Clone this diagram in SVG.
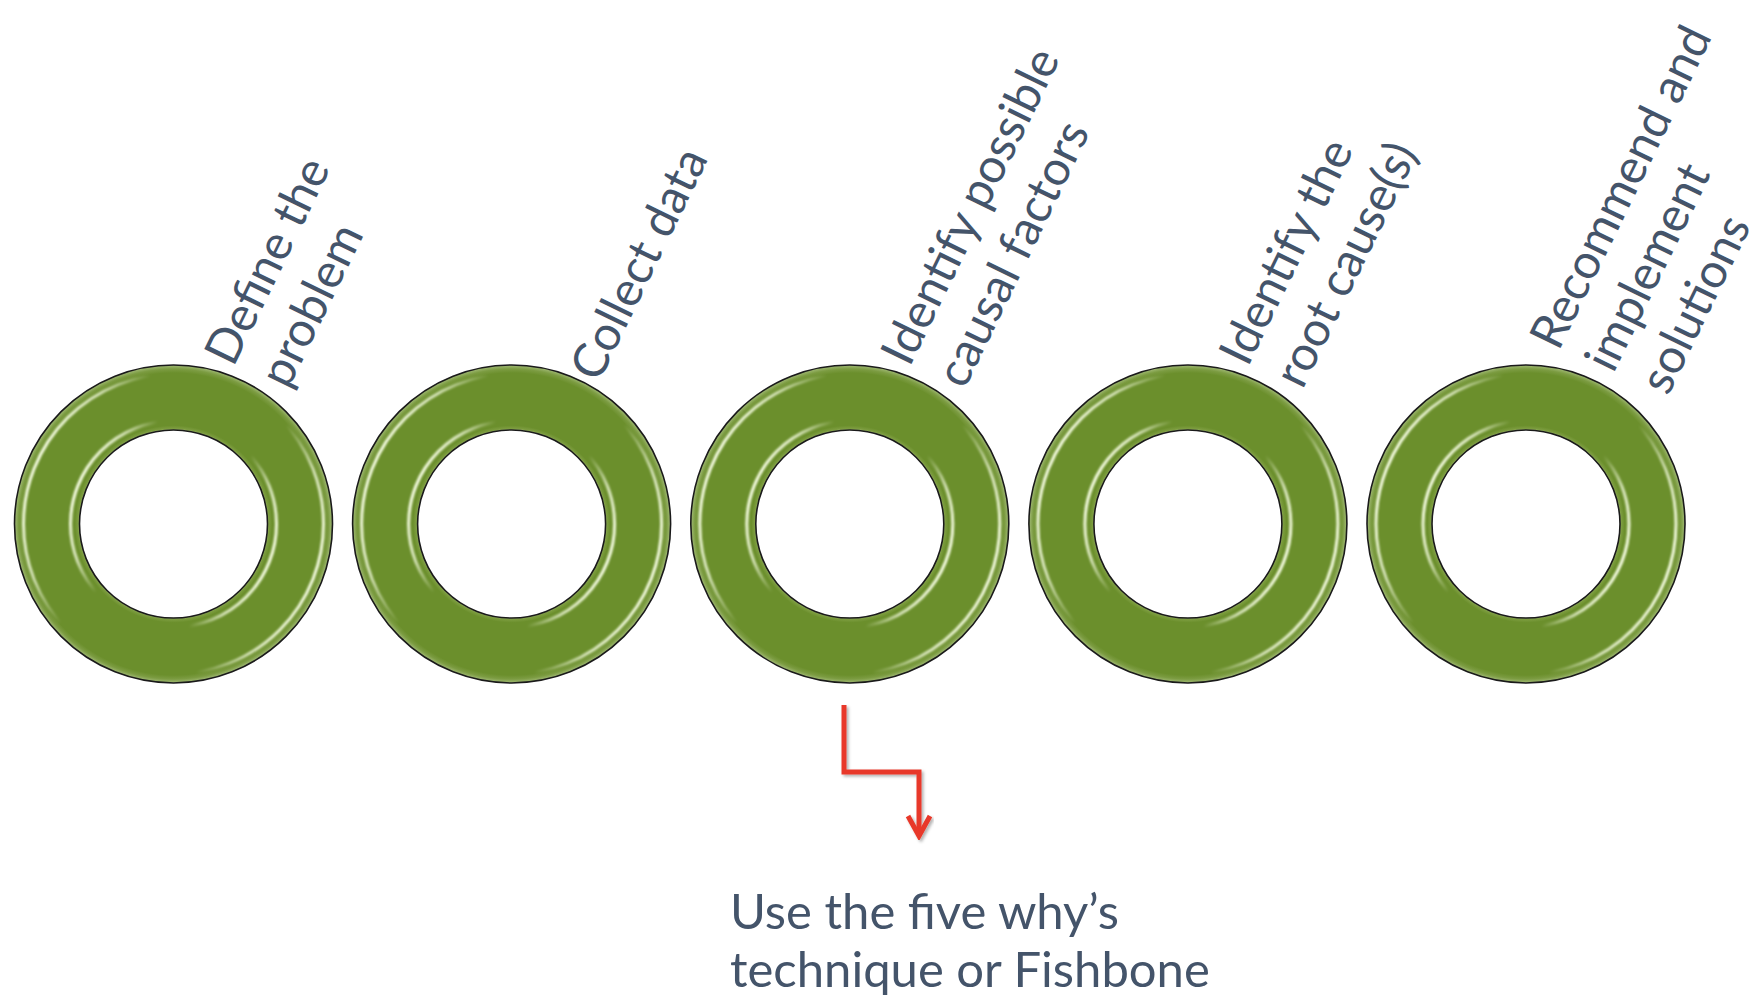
<svg xmlns="http://www.w3.org/2000/svg" width="1756" height="1001" viewBox="0 0 1756 1001">
<style>
.lbl { font-family: Lato, "Open Sans", "Liberation Sans", sans-serif; font-size: 49px; fill: #44546A; }
.rot { font-size: 48px; }
.ring-body { fill: url(#ringFill); fill-rule: evenodd; }
.ring-edge { fill: none; stroke: #1a1a1a; stroke-width: 1.6; }
.gloss { fill: none; stroke: url(#gloss); stroke-width: 3; filter: url(#soft); }
.conn { fill: none; stroke: #E8392A; stroke-width: 5; filter: url(#shadow); }
</style>
<defs>
<radialGradient id="ringFill" cx="0.5" cy="0.5" r="0.5">
<stop offset="0.59" stop-color="#a7bf7c"/>
<stop offset="0.6" stop-color="#7d9d40"/>
<stop offset="0.62" stop-color="#6b8f2c"/>
<stop offset="0.95" stop-color="#6b8f2c"/>
<stop offset="0.975" stop-color="#7c9c42"/>
<stop offset="1" stop-color="#a3bb78"/>
</radialGradient>
<linearGradient id="gloss" x1="0" y1="0.5" x2="1" y2="0.5" gradientTransform="rotate(20 0.5 0.5)">
<stop offset="0" stop-color="#f6fde2" stop-opacity="1"/>
<stop offset="0.12" stop-color="#f6fde2" stop-opacity="0.75"/>
<stop offset="0.26" stop-color="#f6fde2" stop-opacity="0"/>
<stop offset="0.74" stop-color="#f6fde2" stop-opacity="0"/>
<stop offset="0.88" stop-color="#f6fde2" stop-opacity="0.75"/>
<stop offset="1" stop-color="#f6fde2" stop-opacity="1"/>
</linearGradient>
<filter id="soft" x="-10%" y="-10%" width="120%" height="120%"><feGaussianBlur stdDeviation="0.9"/></filter>
<filter id="shadow" x="-20%" y="-20%" width="140%" height="140%"><feDropShadow dx="2" dy="2" stdDeviation="1.5" flood-color="#000" flood-opacity="0.3"/></filter>
<marker id="arrow" markerUnits="userSpaceOnUse" viewBox="-26 -14 30 28" markerWidth="30" markerHeight="28" refX="0" refY="0" orient="auto">
<path d="M-20,-11 L0,0 L-20,11" fill="none" stroke="#E8392A" stroke-width="5"/>
</marker>
<g id="ring">
<path class="ring-body" d="M-159,0 a159,159 0 1,0 318,0 a159,159 0 1,0 -318,0 Z M-94,0 a94,94 0 1,0 188,0 a94,94 0 1,0 -188,0 Z"/>
<circle class="gloss" r="150"/>
<circle class="gloss" r="103"/>
<circle class="ring-edge" r="159"/>
<circle class="ring-edge" r="94"/>
</g>
</defs>
<rect width="1756" height="1001" fill="#ffffff"/>

<g id="node-define">
<use href="#ring" x="173.5" y="524"/>
<text class="lbl rot" transform="translate(233.3,367.9) rotate(-64)"><tspan x="0" y="0">Define the</tspan><tspan x="4" y="59">problem</tspan></text>
</g>
<g id="node-collect">
<use href="#ring" x="511.6" y="524"/>
<text class="lbl rot" transform="translate(598.7,383.6) rotate(-64)"><tspan x="0" y="0">Collect data</tspan></text>
</g>
<g id="node-identify-factors">
<use href="#ring" x="849.8" y="524"/>
<text class="lbl rot" transform="translate(909.6,367.9) rotate(-64)"><tspan x="0" y="0">Identify possible</tspan><tspan x="4" y="59">causal factors</tspan></text>
</g>
<g id="node-root-cause">
<use href="#ring" x="1187.9" y="524"/>
<text class="lbl rot" transform="translate(1247.7,367.9) rotate(-64)"><tspan x="0" y="0">Identify the</tspan><tspan x="4" y="59">root cause(s)</tspan></text>
</g>
<g id="node-solutions">
<use href="#ring" x="1526" y="524"/>
<text class="lbl rot" transform="translate(1558.5,352.1) rotate(-64)"><tspan x="0" y="0">Recommend and</tspan><tspan x="4" y="59">implement</tspan><tspan x="8" y="118">solutions</tspan></text>
</g>

<g id="connectors">
<path class="conn" d="M844,705 V772 H919 V836" marker-end="url(#arrow)"/>
</g>

<g id="note-technique">
<text class="lbl"><tspan x="730" y="929">Use the five why’s</tspan><tspan x="730" y="987">technique or Fishbone</tspan></text>
</g>
</svg>
